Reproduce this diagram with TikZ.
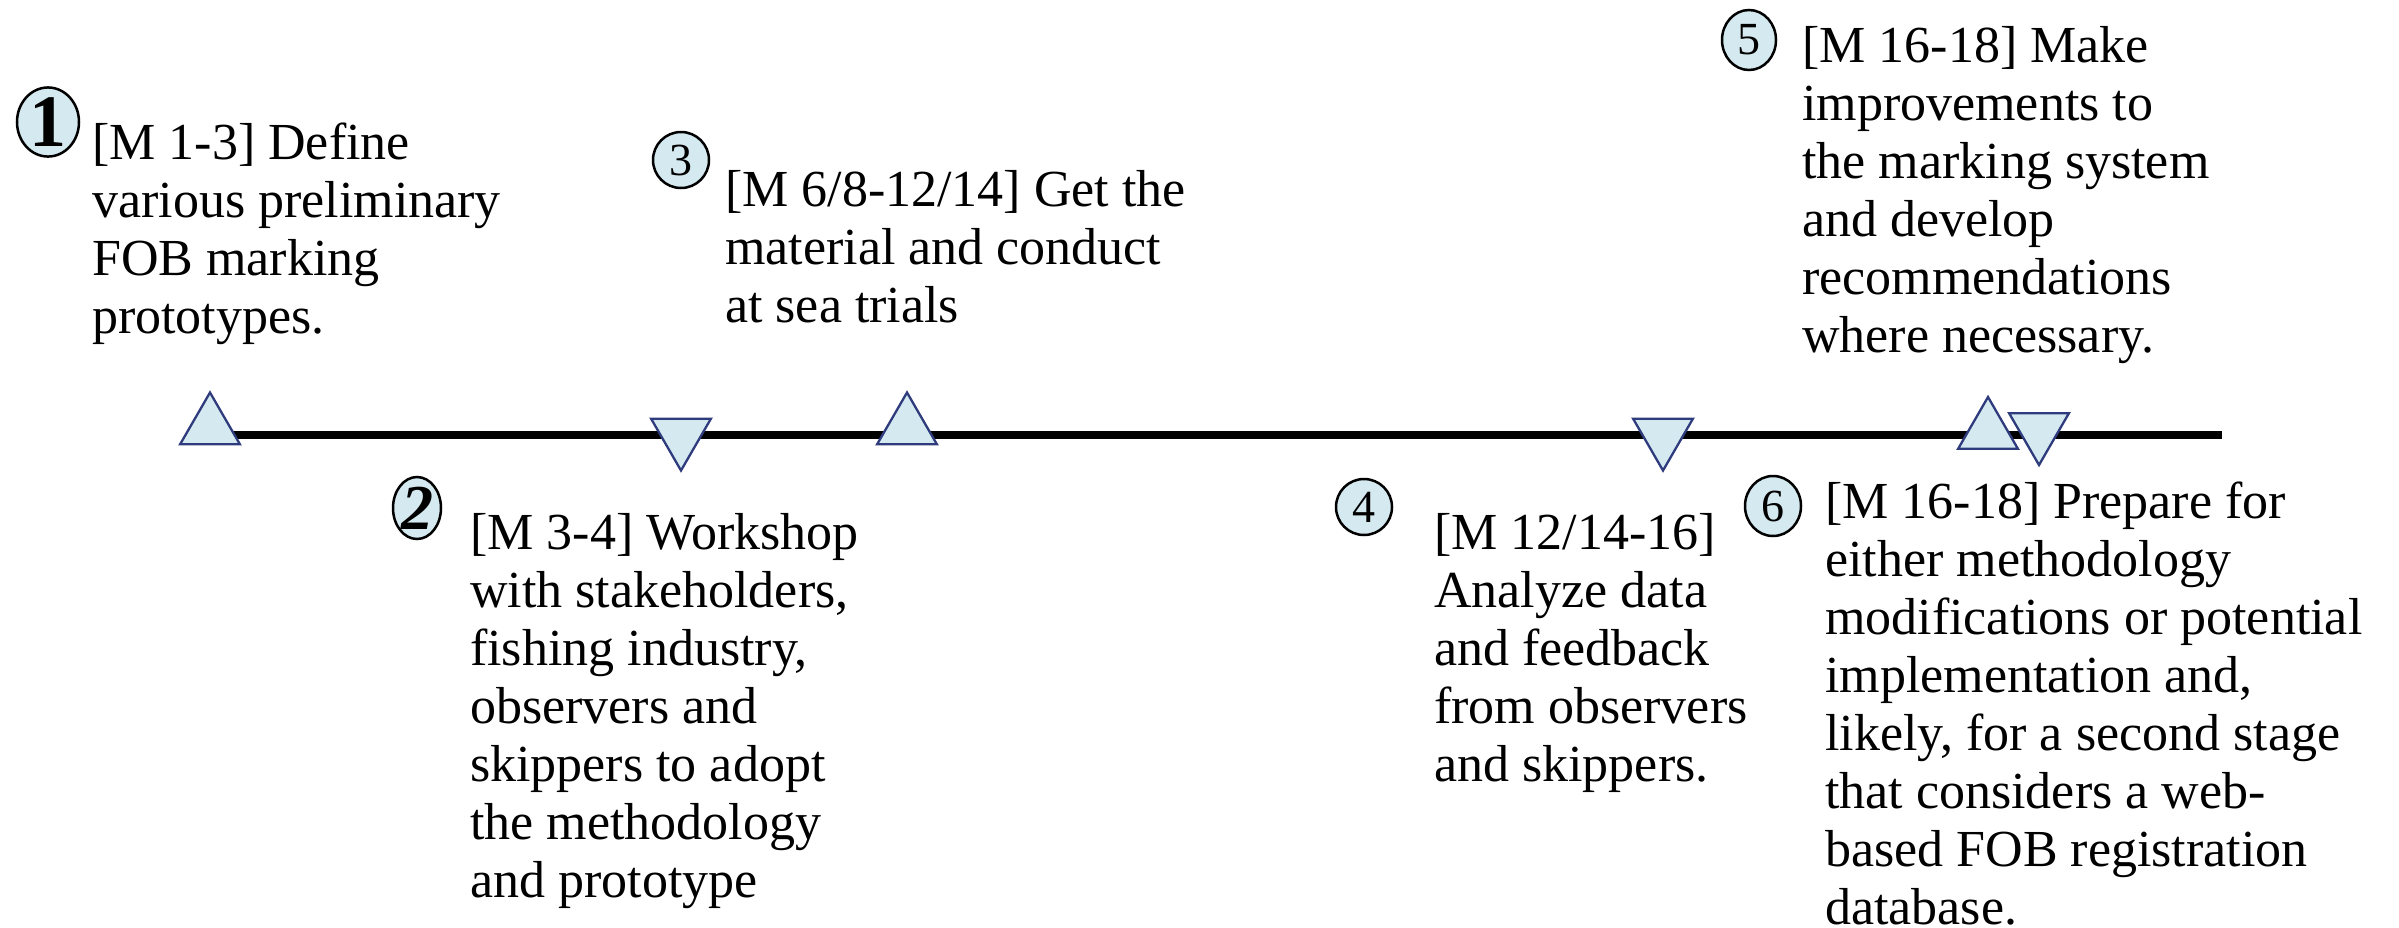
\documentclass[tikz,border=0pt]{standalone}
\usepackage{fontspec}
\setmainfont{Liberation Serif}
\usetikzlibrary{shapes.geometric}
\definecolor{trifill}{HTML}{D5EAF0}
\definecolor{tridraw}{HTML}{2E3B7C}
\definecolor{circfill}{HTML}{D5EAF0}
\newcommand{\tllines}[1]{\vtop{\halign{##\hfil\cr #1\crcr}}}
\tikzset{
 upmark/.style={regular polygon, regular polygon sides=3, minimum size=69pt, inner sep=0pt, fill=trifill, draw=tridraw, line width=2.3pt},
 downmark/.style={upmark, shape border rotate=180},
 numc/.style={ellipse, draw=black, line width=2.5pt, fill=circfill, inner sep=0pt, minimum width=56pt, minimum height=56pt, font=\fontsize{46}{46}\selectfont},
 desc/.style={anchor=base west, inner sep=0pt, font=\fontsize{52}{58}\selectfont},
 axis/.style={line width=8pt, black},
}
\begin{document}
\begin{tikzpicture}[x=1pt,y=-1pt]
\useasboundingbox (0,0) rectangle (2399,927);
% timeline
\coordinate (lineend) at (2222,434.5);
\coordinate (linestart) at (210,434.5);
\draw[axis] (linestart) -- (lineend);
% markers
\node[upmark] (t1) at (210,427) {};
\node[downmark] (t2) at (681,436) {};
\node[upmark] (t3) at (907,427) {};
\node[downmark] (t4) at (1663,436) {};
\node[upmark] (t5) at (1988,431.5) {};
\node[downmark] (t6) at (2039,430.5) {};
% numbers
\node[numc, minimum width=62pt, minimum height=60pt, font=\fontsize{74}{74}\selectfont\bfseries] (c1) at (48,122) {\raisebox{-4pt}{1}};
\node[numc, minimum width=48pt, minimum height=62pt, font=\fontsize{64}{64}\selectfont\bfseries\itshape] (c2) at (417,508) {2};
\node[numc] (c3) at (681,160) {3};
\node[numc] (c4) at (1364,507) {4};
\node[numc, minimum width=54pt, minimum height=60pt] (c5) at (1749,40) {5};
\node[numc, minimum width=56pt, minimum height=60pt] (c6) at (1773,506) {6};
% descriptions
\node[desc] (d1) at (92,159) {\tllines{[M 1-3] Define\cr various preliminary\cr FOB marking\cr prototypes.}};
\node[desc] (d2) at (470,549) {\tllines{[M 3-4] Workshop\cr with stakeholders,\cr fishing industry,\cr observers and\cr skippers to adopt\cr the methodology\cr and prototype}};
\node[desc] (d3) at (725,206) {\tllines{[M 6/8-12/14] Get the\cr material and conduct\cr at sea trials}};
\node[desc] (d4) at (1434,549) {\tllines{[M 12/14-16]\cr Analyze data\cr and feedback\cr from observers\cr and skippers.}};
\node[desc] (d5) at (1802,62) {\tllines{[M 16-18] Make\cr improvements to\cr the marking system\cr and develop\cr recommendations\cr where necessary.}};
\node[desc] (d6) at (1825,518) {\tllines{[M 16-18] Prepare for\cr either methodology\cr modifications or potential\cr implementation and,\cr likely, for a second stage\cr that considers a web-\cr based FOB registration\cr database.}};
\end{tikzpicture}
\end{document}
